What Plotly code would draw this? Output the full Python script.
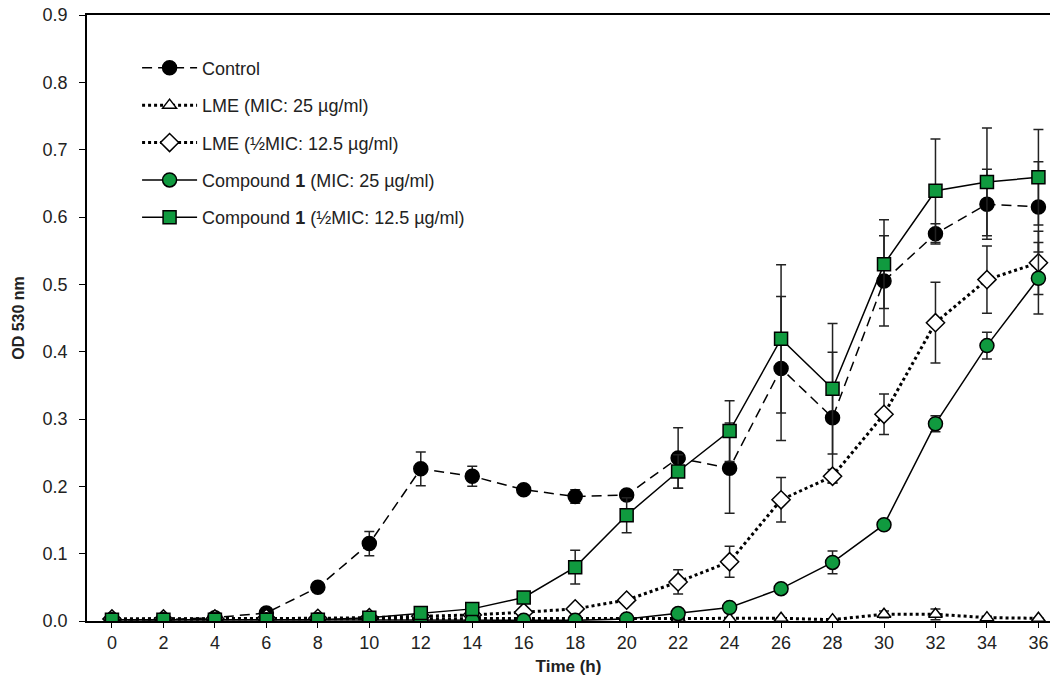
import plotly.graph_objects as go

time_h = [0, 2, 4, 6, 8, 10, 12, 14, 16, 18, 20, 22, 24, 26, 28, 30, 32, 34, 36]

control = [0.002, 0.002, 0.005, 0.012, 0.050, 0.115, 0.226, 0.215, 0.195, 0.185, 0.187,
           0.242, 0.227, 0.375, 0.302, 0.505, 0.575, 0.619, 0.615]
control_err = [0.001, 0.001, 0.002, 0.003, 0.004, 0.018, 0.025, 0.015, 0.005, 0.010, 0.005,
               0.045, 0.067, 0.107, 0.097, 0.067, 0.015, 0.052, 0.067]

lme_mic = [0.003, 0.003, 0.003, 0.003, 0.003, 0.003, 0.003, 0.004, 0.004, 0.003, 0.004,
           0.004, 0.003, 0.004, 0.002, 0.010, 0.010, 0.005, 0.004]
lme_mic_err = [0.001, 0.001, 0.001, 0.001, 0.001, 0.001, 0.001, 0.001, 0.001, 0.001, 0.001,
               0.001, 0.001, 0.001, 0.001, 0.005, 0.008, 0.002, 0.001]

lme_half = [0.003, 0.003, 0.003, 0.004, 0.004, 0.005, 0.007, 0.009, 0.013, 0.018, 0.031,
            0.058, 0.088, 0.180, 0.215, 0.307, 0.443, 0.507, 0.532]
lme_half_err = [0.001, 0.001, 0.001, 0.001, 0.001, 0.001, 0.001, 0.002, 0.003, 0.003, 0.004,
                0.018, 0.023, 0.033, 0.010, 0.030, 0.060, 0.050, 0.047]

comp_mic = [0.002, 0.002, 0.002, 0.002, 0.002, 0.001, 0.002, 0.001, 0.001, 0.001, 0.003,
            0.011, 0.020, 0.048, 0.087, 0.143, 0.293, 0.409, 0.509]
comp_mic_err = [0.001, 0.001, 0.001, 0.001, 0.001, 0.001, 0.001, 0.001, 0.001, 0.001, 0.001,
                0.002, 0.003, 0.004, 0.017, 0.004, 0.012, 0.020, 0.053]

comp_half = [0.002, 0.002, 0.002, 0.002, 0.002, 0.005, 0.012, 0.018, 0.035, 0.080, 0.157,
             0.222, 0.282, 0.419, 0.345, 0.530, 0.639, 0.652, 0.659]
comp_half_err = [0.001, 0.001, 0.001, 0.001, 0.001, 0.001, 0.002, 0.003, 0.005, 0.025, 0.026,
                 0.025, 0.045, 0.110, 0.097, 0.066, 0.077, 0.080, 0.071]

y_ticks = [0, 0.1, 0.2, 0.3, 0.4, 0.5, 0.6, 0.7, 0.8, 0.9]
y_ticklabels = ["0.0", "0.1", "0.2", "0.3", "0.4", "0.5", "0.6", "0.7", "0.8", "0.9"]

names = ["Control",
         "LME (MIC: 25 µg/ml)",
         "LME (½MIC: 12.5 µg/ml)",
         "Compound <b>1</b> (MIC: 25 µg/ml)",
         "Compound <b>1</b> (½MIC: 12.5 µg/ml)"]

GREEN = "#109a3f"
series = [
    (control, control_err, dict(dash="10px,6px", width=1.5), dict(symbol="circle", size=14, color="black")),
    (lme_mic, lme_mic_err, dict(dash="3px,3px", width=3), dict(symbol="triangle-up", size=12, color="white")),
    (lme_half, lme_half_err, dict(dash="3px,3px", width=3), dict(symbol="diamond", size=14, color="white")),
    (comp_mic, comp_mic_err, dict(dash="solid", width=1.5), dict(symbol="circle", size=14, color=GREEN)),
    (comp_half, comp_half_err, dict(dash="solid", width=1.5), dict(symbol="square", size=13, color=GREEN)),
]

fig = go.Figure()
for i, (vals, errs, ln, mk) in enumerate(series):
    fig.add_trace(go.Scatter(
        x=time_h, y=vals, name=names[i], mode="lines+markers",
        legendgroup=f"g{i}",
        line=dict(color="black", **ln),
        marker=dict(line=dict(color="black", width=1.5), **mk),
        error_y=dict(type="data", array=errs, visible=True, color="#222222", thickness=1.5, width=5),
    ))

fig.update_layout(
    width=1050, height=676,
    margin=dict(l=87, r=0, t=15, b=55),
    paper_bgcolor="white", plot_bgcolor="white",
    font=dict(family="Liberation Sans, Arial, sans-serif", size=18, color="#222222"),
    showlegend=True,
    legend=dict(x=0.052, y=0.943, xanchor="left", yanchor="top",
                bgcolor="rgba(0,0,0,0)", tracegroupgap=11, itemwidth=55,
                font=dict(size=18, color="#222222")),
    xaxis=dict(range=[-0.97, 36.45], tickmode="array", tickvals=time_h,
               ticktext=[str(t) for t in time_h], automargin=False,
               showline=True, linecolor="black", linewidth=1.5, mirror=True,
               ticks="outside", ticklen=5, tickcolor="black", showgrid=False, zeroline=False,
               title=dict(text="<b>Time (h)</b>", standoff=9, font=dict(size=17))),
    yaxis=dict(range=[0, 0.9], tickmode="array", tickvals=y_ticks, ticktext=y_ticklabels,
               automargin=False, ticklabelstandoff=8,
               showline=True, linecolor="black", linewidth=1.5,
               ticks="outside", ticklen=6, tickcolor="black", showgrid=False, zeroline=False,
               title=dict(text="<b>OD 530 nm</b>", standoff=14, font=dict(size=16))),
)

fig.write_html("out.html", config={"displayModeBar": False},
               post_script="document.body.style.margin='0px';")
